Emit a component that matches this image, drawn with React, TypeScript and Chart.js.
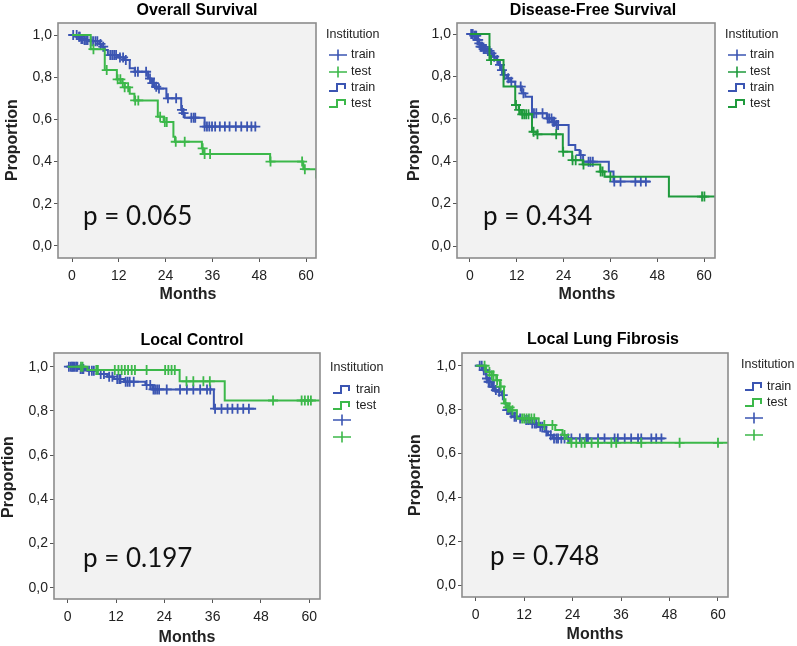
import React, { useEffect, useRef } from "react";
import { Chart, registerables } from "chart.js";

Chart.register(...registerables);

// ---------- data ----------
const MONTH_TICKS = [0, 12, 24, 36, 48, 60];
const PROP_TICKS = [0, 0.2, 0.4, 0.6, 0.8, 1.0];

// Overall Survival
const osTrainTime = [0, 1.5, 2.2, 3.1, 4.5, 7.0, 7.6, 8.4, 9.2, 11.8, 13.5, 14.8, 16.1, 19.5, 20.3, 21.2, 22.0, 24.2, 28.0, 28.5, 28.9, 34.0, 47.3];
const osTrainSurv = [1.0, 0.992, 0.981, 0.976, 0.971, 0.958, 0.945, 0.929, 0.905, 0.894, 0.882, 0.842, 0.826, 0.794, 0.772, 0.755, 0.746, 0.7, 0.645, 0.63, 0.608, 0.566, 0.566];
const osTrainCensor = [0.3, 1.2, 1.8, 2.0, 2.4, 2.7, 3.2, 3.6, 4.0, 4.8, 5.4, 6.0, 6.5, 7.3, 8.0, 9.8, 10.3, 10.8, 11.3, 12.3, 13.1, 13.8, 16.2, 16.9, 19.0, 20.0, 20.6, 21.0, 21.6, 22.3, 24.6, 26.7, 28.2, 28.6, 30.6, 31.2, 31.6, 34.0, 34.6, 35.2, 35.9, 36.7, 37.9, 39.2, 40.4, 42.0, 43.4, 44.9, 46.0, 47.0];
const osTestTime = [0, 4.8, 8.4, 11.5, 12.5, 13.5, 14.8, 16.0, 22.0, 23.5, 26.0, 26.4, 33.3, 33.7, 50.8, 59.3, 62.6, 63.5];
const osTestSurv = [1.0, 0.933, 0.834, 0.79, 0.772, 0.752, 0.722, 0.69, 0.613, 0.588, 0.518, 0.494, 0.463, 0.436, 0.4, 0.364, 0.32, 0.32];
const osTestCensor = [5.5, 8.9, 11.7, 12.4, 13.0, 13.5, 14.4, 16.2, 17.0, 22.6, 23.8, 24.3, 26.6, 28.9, 33.5, 34.0, 35.4, 50.9, 59.0, 59.7];

// Disease-Free Survival
const dfsTrainTime = [0, 0.9, 1.8, 2.2, 2.6, 3.3, 4.4, 5.2, 5.9, 6.7, 7.4, 7.9, 8.6, 9.5, 10.3, 11.6, 13.3, 14.2, 15.9, 19.7, 21.0, 21.9, 25.3, 27.0, 28.1, 29.0, 35.6, 36.8, 46.2];
const dfsTrainSurv = [1.0, 0.992, 0.972, 0.956, 0.94, 0.929, 0.92, 0.909, 0.893, 0.877, 0.854, 0.83, 0.807, 0.791, 0.775, 0.752, 0.72, 0.704, 0.626, 0.602, 0.586, 0.571, 0.476, 0.453, 0.429, 0.398, 0.351, 0.304, 0.304];
const dfsTrainCensor = [0.3, 0.7, 1.1, 1.4, 1.6, 1.9, 2.1, 2.4, 2.7, 2.9, 3.1, 3.5, 3.8, 4.1, 4.6, 5.0, 5.5, 6.2, 7.0, 7.7, 8.2, 8.9, 9.8, 10.6, 13.0, 13.7, 16.4, 17.0, 18.6, 19.9, 20.3, 20.9, 21.3, 21.6, 22.2, 22.6, 28.4, 30.4, 30.9, 31.5, 37.0, 38.6, 42.4, 43.8, 45.1];
const dfsTestTime = [0, 5.0, 8.6, 11.6, 12.5, 13.1, 15.9, 17.0, 23.8, 26.2, 28.9, 33.4, 34.5, 51.0, 63.5];
const dfsTestSurv = [1.0, 0.877, 0.752, 0.665, 0.642, 0.621, 0.539, 0.527, 0.445, 0.405, 0.385, 0.351, 0.327, 0.233, 0.233];
const dfsTestCensor = [5.4, 11.8, 12.6, 13.4, 13.9, 14.4, 15.0, 16.3, 17.3, 22.1, 23.9, 26.3, 27.1, 29.1, 33.5, 34.0, 36.0, 59.5, 60.1];

// Local Control
const lcTrainTime = [0, 2.8, 4.9, 7.4, 9.8, 11.5, 14.0, 19.3, 21.0, 36.3, 46.8];
const lcTrainSurv = [1.0, 0.99, 0.982, 0.967, 0.955, 0.944, 0.932, 0.917, 0.897, 0.81, 0.81];
const lcTrainCensor = [0.3, 0.8, 1.1, 1.4, 1.7, 2.1, 2.4, 3.2, 3.6, 3.9, 5.3, 6.0, 6.5, 8.2, 9.0, 10.3, 11.1, 12.3, 12.8, 13.1, 14.4, 14.9, 15.4, 16.4, 19.6, 20.5, 21.3, 21.7, 22.2, 22.7, 24.6, 27.9, 29.6, 31.2, 32.9, 34.6, 35.4, 36.6, 38.2, 39.7, 40.9, 42.2, 43.6, 45.0];
const lcTestTime = [0, 4.9, 27.8, 39.0, 63.5];
const lcTestSurv = [1.0, 0.985, 0.934, 0.847, 0.847];
const lcTestCensor = [3.3, 3.7, 7.1, 7.5, 11.7, 12.6, 13.4, 14.2, 15.0, 15.9, 16.7, 19.6, 24.2, 25.0, 25.8, 26.6, 29.5, 31.2, 33.7, 35.3, 51.0, 58.1, 58.9, 59.7, 60.4];

// Local Lung Fibrosis
const llfTrainTime = [0, 1.8, 2.6, 3.0, 3.9, 4.7, 5.5, 6.4, 7.0, 7.2, 7.6, 8.4, 9.2, 10.5, 12.1, 13.4, 15.4, 17.1, 17.9, 19.1, 46.8];
const llfTrainSurv = [1.0, 0.98, 0.942, 0.927, 0.904, 0.889, 0.882, 0.866, 0.844, 0.828, 0.798, 0.783, 0.768, 0.76, 0.753, 0.737, 0.722, 0.7, 0.684, 0.669, 0.669];
const llfTrainCensor = [1.0, 1.5, 2.0, 2.4, 2.8, 3.2, 3.5, 4.2, 4.5, 5.0, 5.8, 6.7, 7.8, 8.1, 8.8, 9.6, 10.0, 11.0, 12.5, 13.0, 14.0, 14.6, 15.0, 16.0, 16.5, 17.5, 18.6, 19.4, 20.0, 20.4, 21.2, 22.0, 22.9, 23.7, 25.8, 27.4, 27.8, 30.3, 31.9, 34.4, 35.2, 36.9, 38.5, 40.2, 41.0, 43.5, 44.7, 46.0];
const llfTestTime = [0, 2.6, 3.9, 5.1, 6.0, 7.0, 7.6, 8.6, 10.2, 15.6, 19.7, 21.5, 22.5, 23.3, 63.5];
const llfTestSurv = [1.0, 0.972, 0.957, 0.934, 0.905, 0.829, 0.81, 0.797, 0.76, 0.73, 0.707, 0.685, 0.667, 0.649, 0.649];
const llfTestCensor = [2.2, 3.4, 4.0, 4.4, 5.3, 6.2, 7.4, 8.0, 8.4, 9.1, 11.5, 12.0, 12.6, 13.2, 13.8, 14.5, 17.0, 19.0, 22.0, 23.7, 24.9, 26.2, 27.0, 28.7, 30.3, 33.6, 34.8, 41.0, 50.5, 60.0];

// ---------- styles ----------
const BLUE = "#3b55b2";
const GREEN = "#3cb84a";
const GREEN_DARK = "#1f9a3c";
const SANS = "'Liberation Sans', Arial, sans-serif";
const PFONT = "Lato, 'Open Sans', sans-serif";

type Curve = { time: number[]; surv: number[]; censor: number[]; color: string };
type Area = { l: number; t: number; r: number; b: number };
type PanelSpec = {
  left: number; top: number; w: number; h: number;
  area: Area;
  xMin: number; xMax: number; yMin: number; yMax: number;
  title: string; titleX: number; titleY: number;
  propX: number; propY: number; monthsX: number; monthsY: number;
  pText: string; pX: number; pY: number;
  legX: number; legY: number; symX: number; textX: number; rows: number[];
  stepFirst: boolean;
  train: Curve; test: Curve;
};

function stepAt(time: number[], surv: number[], t: number) {
  let s = surv[0];
  for (let i = 0; i < time.length; i++) if (time[i] <= t) s = surv[i];
  return s;
}

const PANELS: PanelSpec[] = [
  {
    left: 0, top: 0, w: 398, h: 320, area: { l: 58, t: 23, r: 316, b: 258 },
    xMin: -3.59, xMax: 62.56, yMin: -0.057, yMax: 1.057,
    title: "Overall Survival", titleX: 197, titleY: 10,
    propX: 13, propY: 140, monthsX: 188, monthsY: 295,
    pText: "p = 0.065", pX: 83, pY: 225,
    legX: 326, legY: 35, symX: 329, textX: 351, rows: [55, 72, 88, 104], stepFirst: false,
    train: { time: osTrainTime, surv: osTrainSurv, censor: osTrainCensor, color: BLUE },
    test: { time: osTestTime, surv: osTestSurv, censor: osTestCensor, color: GREEN },
  },
  {
    left: 398, top: 0, w: 399, h: 320, area: { l: 59, t: 23, r: 317, b: 258 },
    xMin: -3.33, xMax: 62.82, yMin: -0.0566, yMax: 1.0519,
    title: "Disease-Free Survival", titleX: 195, titleY: 10,
    propX: 17, propY: 140, monthsX: 189, monthsY: 295,
    pText: "p = 0.434", pX: 85, pY: 225,
    legX: 327, legY: 35, symX: 330, textX: 352, rows: [55, 72, 88, 104], stepFirst: false,
    train: { time: dfsTrainTime, surv: dfsTrainSurv, censor: dfsTrainCensor, color: BLUE },
    test: { time: dfsTestTime, surv: dfsTestSurv, censor: dfsTestCensor, color: GREEN_DARK },
  },
  {
    left: 0, top: 320, w: 398, h: 326, area: { l: 54, t: 33, r: 320, b: 279 },
    xMin: -3.4, xMax: 62.66, yMin: -0.051, yMax: 1.062,
    title: "Local Control", titleX: 192, titleY: 20,
    propX: 9, propY: 157, monthsX: 187, monthsY: 318,
    pText: "p = 0.197", pX: 83, pY: 247,
    legX: 330, legY: 48, symX: 333, textX: 356, rows: [70, 86, 100, 117], stepFirst: true,
    train: { time: lcTrainTime, surv: lcTrainSurv, censor: lcTrainCensor, color: BLUE },
    test: { time: lcTestTime, surv: lcTestSurv, censor: lcTestCensor, color: GREEN },
  },
  {
    left: 398, top: 320, w: 399, h: 326, area: { l: 64, t: 33, r: 330, b: 277 },
    xMin: -3.39, xMax: 62.48, yMin: -0.053, yMax: 1.058,
    title: "Local Lung Fibrosis", titleX: 205, titleY: 19,
    propX: 18, propY: 155, monthsX: 197, monthsY: 315,
    pText: "p = 0.748", pX: 92, pY: 245,
    legX: 343, legY: 45, symX: 347, textX: 369, rows: [67, 83, 98, 115], stepFirst: true,
    train: { time: llfTrainTime, surv: llfTrainSurv, censor: llfTrainCensor, color: BLUE },
    test: { time: llfTestTime, surv: llfTestSurv, censor: llfTestCensor, color: GREEN },
  },
];

function curveDatasets(c: Curve) {
  return [
    {
      type: "line",
      data: c.time.map((t, i) => ({ x: t, y: c.surv[i] })),
      stepped: true,
      borderColor: c.color,
      borderWidth: 2,
      pointRadius: 0,
      fill: false,
      tension: 0,
    },
    {
      type: "line",
      data: c.censor.map((t) => ({ x: t, y: stepAt(c.time, c.surv, t) })),
      showLine: false,
      pointStyle: "cross",
      pointRadius: 5,
      pointBorderWidth: 1.8,
      pointBorderColor: c.color,
      pointBackgroundColor: c.color,
    },
  ];
}

function drawCross(ctx: CanvasRenderingContext2D, x: number, y: number, color: string) {
  ctx.strokeStyle = color;
  ctx.lineWidth = 1.6;
  ctx.beginPath();
  ctx.moveTo(x, y);
  ctx.lineTo(x + 18, y);
  ctx.moveTo(x + 9, y - 5.5);
  ctx.lineTo(x + 9, y + 5.5);
  ctx.stroke();
}

function drawStep(ctx: CanvasRenderingContext2D, x: number, y: number, color: string) {
  ctx.strokeStyle = color;
  ctx.lineWidth = 2;
  ctx.beginPath();
  ctx.moveTo(x, y + 3);
  ctx.lineTo(x + 8, y + 3);
  ctx.lineTo(x + 8, y - 4);
  ctx.lineTo(x + 16, y - 4);
  ctx.lineTo(x + 16, y + 1);
  ctx.stroke();
}

function KMPanel({ spec }: { spec: PanelSpec }) {
  const ref = useRef<HTMLCanvasElement | null>(null);
  useEffect(() => {
    const canvas = ref.current;
    if (!canvas) return;
    const s = spec;
    const decor = {
      id: "decor",
      beforeDraw(chart: any) {
        const { ctx, chartArea: a } = chart;
        ctx.save();
        ctx.fillStyle = "#f2f2f2";
        ctx.fillRect(a.left, a.top, a.right - a.left, a.bottom - a.top);
        ctx.restore();
      },
      afterDraw(chart: any) {
        const { ctx, chartArea: a } = chart;
        ctx.save();
        ctx.strokeStyle = "#8c8c8c";
        ctx.lineWidth = 1.6;
        ctx.strokeRect(a.left, a.top, a.right - a.left, a.bottom - a.top);

        ctx.fillStyle = "#000";
        ctx.textAlign = "center";
        ctx.textBaseline = "middle";
        ctx.font = `bold 16px ${SANS}`;
        ctx.fillText(s.title, s.titleX, s.titleY + 1);
        ctx.fillStyle = "#222";
        ctx.fillText("Months", s.monthsX, s.monthsY);
        ctx.save();
        ctx.translate(s.propX, s.propY);
        ctx.rotate(-Math.PI / 2);
        ctx.fillText("Proportion", 0, 0);
        ctx.restore();

        ctx.fillStyle = "#111";
        ctx.textAlign = "left";
        ctx.textBaseline = "alphabetic";
        ctx.font = `26px ${PFONT}`;
        ctx.fillText(s.pText, s.pX, s.pY);

        ctx.fillStyle = "#222";
        ctx.textBaseline = "middle";
        ctx.font = `12.5px ${SANS}`;
        ctx.fillText("Institution", s.legX, s.legY);
        const entries = s.stepFirst
          ? [
              { kind: "step", c: s.train.color, label: "train" },
              { kind: "step", c: s.test.color, label: "test" },
              { kind: "cross", c: s.train.color, label: "" },
              { kind: "cross", c: s.test.color, label: "" },
            ]
          : [
              { kind: "cross", c: s.train.color, label: "train" },
              { kind: "cross", c: s.test.color, label: "test" },
              { kind: "step", c: s.train.color, label: "train" },
              { kind: "step", c: s.test.color, label: "test" },
            ];
        entries.forEach((e, i) => {
          const y = s.rows[i];
          if (e.kind === "cross") drawCross(ctx, s.symX, y, e.c);
          else drawStep(ctx, s.symX, y, e.c);
          if (e.label) {
            ctx.fillStyle = "#222";
            ctx.fillText(e.label, s.textX, y);
          }
        });
        ctx.restore();
      },
    };

    const chart = new Chart(canvas, {
      type: "line",
      data: { datasets: [...curveDatasets(s.test), ...curveDatasets(s.train)] as any },
      options: {
        responsive: false,
        animation: false,
        events: [],
        devicePixelRatio: 1,
        layout: {
          autoPadding: false,
          padding: { left: 0, top: s.area.t, right: s.w - s.area.r, bottom: 0 },
        },
        plugins: { legend: { display: false }, tooltip: { enabled: false }, title: { display: false } },
        scales: {
          x: {
            type: "linear",
            min: s.xMin,
            max: s.xMax,
            afterBuildTicks: (sc: any) => {
              sc.ticks = MONTH_TICKS.map((v) => ({ value: v }));
            },
            afterFit: (sc: any) => {
              sc.height = s.h - s.area.b;
            },
            border: { display: false },
            grid: { drawOnChartArea: false, drawTicks: true, tickLength: 4, color: "#555", lineWidth: 1 },
            ticks: {
              autoSkip: false,
              maxRotation: 0,
              padding: 6,
              color: "#222",
              font: { family: SANS, size: 14 },
              callback: (v: any) => String(v),
            },
          },
          y: {
            type: "linear",
            min: s.yMin,
            max: s.yMax,
            afterBuildTicks: (sc: any) => {
              sc.ticks = PROP_TICKS.map((v) => ({ value: v }));
            },
            afterFit: (sc: any) => {
              sc.width = s.area.l;
            },
            border: { display: false },
            grid: { drawOnChartArea: false, drawTicks: true, tickLength: 4, color: "#555", lineWidth: 1 },
            ticks: {
              autoSkip: false,
              padding: 2,
              color: "#222",
              font: { family: SANS, size: 14 },
              callback: (v: any) => Number(v).toFixed(1).replace(".", ","),
            },
          },
        },
      } as any,
      plugins: [decor as any],
    });
    return () => chart.destroy();
  }, [spec]);
  return (
    <canvas
      ref={ref}
      width={spec.w}
      height={spec.h}
      style={{ position: "absolute", left: spec.left, top: spec.top, width: spec.w + "px", height: spec.h + "px" }}
    />
  );
}

export default function App() {
  return (
    <div style={{ position: "absolute", left: 0, top: 0, width: 797, height: 646, background: "#fff", overflow: "hidden" }}>
      {PANELS.map((p) => (
        <KMPanel key={p.title} spec={p} />
      ))}
    </div>
  );
}
